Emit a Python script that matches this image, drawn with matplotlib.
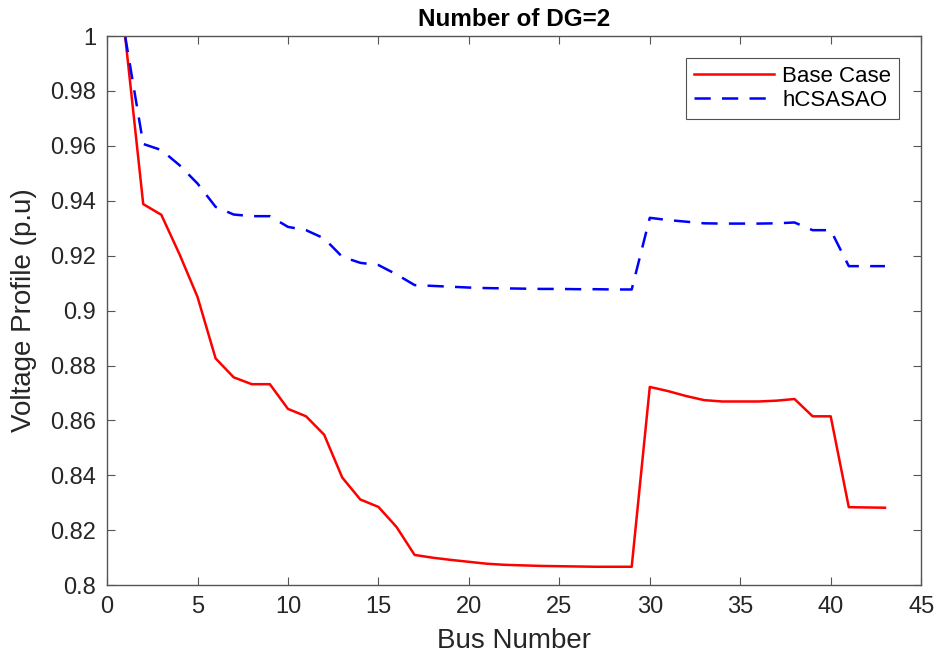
import matplotlib
matplotlib.use("Agg")
import matplotlib.pyplot as plt

plt.rcParams["font.family"] = ["Liberation Sans", "DejaVu Sans"]

bus = list(range(1, 44))

base_case = [1.0, 0.9388, 0.9349, 0.9206, 0.9050, 0.8826, 0.8757, 0.8732, 0.8732, 0.8642,
             0.8615, 0.8548, 0.8392, 0.8312, 0.8285, 0.8212, 0.8110, 0.8100, 0.8092, 0.8085,
             0.8078, 0.8074, 0.8072, 0.8070, 0.8069, 0.8068, 0.8067, 0.8067, 0.8067, 0.8722,
             0.8707, 0.8689, 0.8674, 0.8669, 0.8669, 0.8669, 0.8672, 0.8678, 0.8615, 0.8615,
             0.8284, 0.8283, 0.8282]

hcsasao = [1.0, 0.9607, 0.9585, 0.9530, 0.9463, 0.9378, 0.9350, 0.9344, 0.9344, 0.9305,
           0.9293, 0.9263, 0.9196, 0.9174, 0.9166, 0.9132, 0.9093, 0.9090, 0.9087, 0.9084,
           0.9082, 0.9081, 0.9080, 0.9079, 0.9079, 0.9078, 0.9078, 0.9077, 0.9077, 0.9338,
           0.9330, 0.9324, 0.9318, 0.9317, 0.9317, 0.9317, 0.9318, 0.9321, 0.9293, 0.9293,
           0.9162, 0.9162, 0.9162]

fig = plt.figure(figsize=(9.39, 6.56), dpi=100)
ax = fig.add_axes([0.114, 0.108, 0.867, 0.837])

ax.plot(bus, base_case, color="red", lw=1.8, label="Base Case")
ax.plot(bus, hcsasao, color="blue", lw=1.8, dashes=(6.5, 4.5), label="hCSASAO")

ax.set_xlim(0, 45)
ax.set_ylim(0.8, 1.0)
ax.set_xticks(range(0, 46, 5))
ax.set_yticks([0.8, 0.82, 0.84, 0.86, 0.88, 0.9, 0.92, 0.94, 0.96, 0.98, 1.0])
ax.set_yticklabels(["0.8", "0.82", "0.84", "0.86", "0.88", "0.9", "0.92", "0.94", "0.96", "0.98", "1"])

ax.tick_params(direction="in", top=True, right=True, length=6, width=0.8,
               color="#555555", labelsize=17, labelcolor="#262626", pad=8)
for s in ax.spines.values():
    s.set_color("#555555")
    s.set_linewidth(1.0)

ax.set_xlabel("Bus Number", fontsize=20, color="#262626", labelpad=7)
ax.set_ylabel("Voltage Profile (p.u)", fontsize=20, color="#262626", labelpad=9)
ax.set_title("Number of DG=2", fontsize=17.5, fontweight="bold", pad=7)

leg = ax.legend(loc="upper right", bbox_to_anchor=(0.973, 0.96), borderaxespad=0,
                fontsize=16, handlelength=3.6, handletextpad=0.4, fancybox=False,
                edgecolor="#262626", borderpad=0.35, labelspacing=0.15)
leg.get_frame().set_linewidth(0.8)

fig.savefig("out.png", dpi=100)
plt.close(fig)
